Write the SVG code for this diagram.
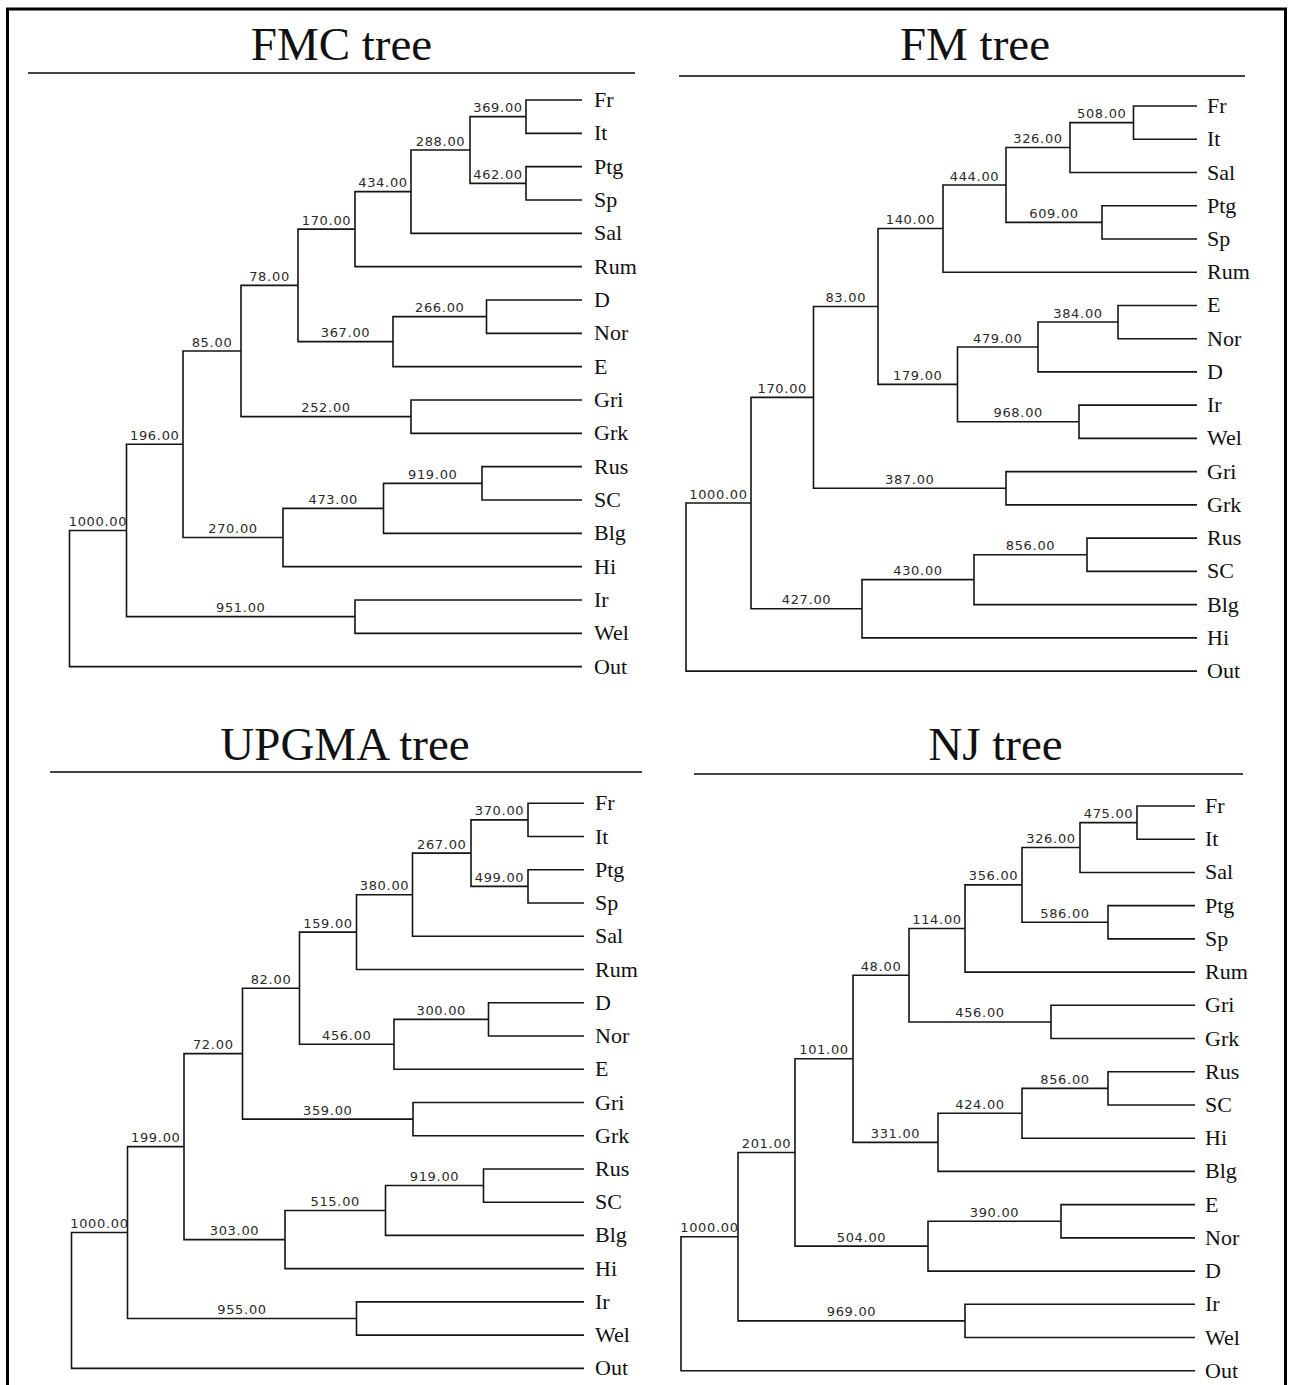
<svg xmlns="http://www.w3.org/2000/svg" width="1291" height="1385" viewBox="0 0 1291 1385">
  <style>
    .frame { fill: none; stroke: #000; stroke-width: 3; }
    .title { font-family: "Liberation Serif", "Times New Roman", serif; font-size: 47px; fill: #111; text-anchor: middle; }
    .rule { stroke: #444; stroke-width: 2; }
    .edges path { fill: none; stroke: #151515; stroke-width: 1.6; }
    .val { font-family: "DejaVu Sans", Verdana, sans-serif; font-size: 13px; letter-spacing: 0.7px; fill: #2a2a2a; text-anchor: middle; }
    .leaf text { font-family: "Liberation Serif", "Times New Roman", serif; font-size: 22px; fill: #111; }
  </style>
  <rect width="1291" height="1385" fill="#fff"/>
  <path class="frame" d="M7.5,1390 V9 H1285.5 V1390"/>

  <!-- FMC tree -->
  <g id="fmc">
    <text class="title" x="341.5" y="59.5">FMC tree</text>
    <line class="rule" x1="28" y1="73" x2="635" y2="73"/>
    <g id="fmc-edges" class="edges">
      <path d="M126.5,530.47 H69.5 V666.67 H582"/>
      <path d="M183,444.27 H126.5 V616.67 H355"/>
      <path d="M582,600 H355 V633.33 H582"/>
      <path d="M241,351.04 H183 V537.5 H283"/>
      <path d="M383.5,508.33 H283 V566.67 H582"/>
      <path d="M482,483.33 H383.5 V533.33 H582"/>
      <path d="M582,466.67 H482 V500 H582"/>
      <path d="M298,285.42 H241 V416.67 H411"/>
      <path d="M582,400 H411 V433.33 H582"/>
      <path d="M355,229.17 H298 V341.67 H393"/>
      <path d="M486.5,316.67 H393 V366.67 H582"/>
      <path d="M582,300 H486.5 V333.33 H582"/>
      <path d="M411,191.67 H355 V266.67 H582"/>
      <path d="M470,150 H411 V233.33 H582"/>
      <path d="M526,116.67 H470 V183.33 H526"/>
      <path d="M582,100 H526 V133.33 H582"/>
      <path d="M582,166.67 H526 V200 H582"/>
    </g>
    <g id="fmc-values">
      <text class="val" x="98" y="526">1000.00</text>
      <text class="val" x="154.75" y="439.8">196.00</text>
      <text class="val" x="240.75" y="612.2">951.00</text>
      <text class="val" x="212" y="346.5">85.00</text>
      <text class="val" x="233" y="533">270.00</text>
      <text class="val" x="333.25" y="503.8">473.00</text>
      <text class="val" x="432.75" y="478.8">919.00</text>
      <text class="val" x="269.5" y="280.9">78.00</text>
      <text class="val" x="326" y="412.2">252.00</text>
      <text class="val" x="326.5" y="224.7">170.00</text>
      <text class="val" x="345.5" y="337.2">367.00</text>
      <text class="val" x="439.75" y="312.2">266.00</text>
      <text class="val" x="383" y="187.2">434.00</text>
      <text class="val" x="440.5" y="145.5">288.00</text>
      <text class="val" x="498" y="112.2">369.00</text>
      <text class="val" x="498" y="178.8">462.00</text>
    </g>
    <g id="fmc-Fr" class="leaf"><text x="594" y="107">Fr</text></g>
    <g id="fmc-It" class="leaf"><text x="594" y="140.3">It</text></g>
    <g id="fmc-Ptg" class="leaf"><text x="594" y="173.7">Ptg</text></g>
    <g id="fmc-Sp" class="leaf"><text x="594" y="207">Sp</text></g>
    <g id="fmc-Sal" class="leaf"><text x="594" y="240.3">Sal</text></g>
    <g id="fmc-Rum" class="leaf"><text x="594" y="273.7">Rum</text></g>
    <g id="fmc-D" class="leaf"><text x="594" y="307">D</text></g>
    <g id="fmc-Nor" class="leaf"><text x="594" y="340.3">Nor</text></g>
    <g id="fmc-E" class="leaf"><text x="594" y="373.7">E</text></g>
    <g id="fmc-Gri" class="leaf"><text x="594" y="407">Gri</text></g>
    <g id="fmc-Grk" class="leaf"><text x="594" y="440.3">Grk</text></g>
    <g id="fmc-Rus" class="leaf"><text x="594" y="473.7">Rus</text></g>
    <g id="fmc-SC" class="leaf"><text x="594" y="507">SC</text></g>
    <g id="fmc-Blg" class="leaf"><text x="594" y="540.3">Blg</text></g>
    <g id="fmc-Hi" class="leaf"><text x="594" y="573.7">Hi</text></g>
    <g id="fmc-Ir" class="leaf"><text x="594" y="607">Ir</text></g>
    <g id="fmc-Wel" class="leaf"><text x="594" y="640.3">Wel</text></g>
    <g id="fmc-Out" class="leaf"><text x="594" y="673.7">Out</text></g>
  </g>

  <!-- FM tree -->
  <g id="fm">
    <text class="title" x="975" y="60">FM tree</text>
    <line class="rule" x1="679" y1="76" x2="1245" y2="76"/>
    <g id="fm-edges" class="edges">
      <path d="M751,503.06 H686 V671.08 H1197"/>
      <path d="M813.5,397.37 H751 V608.76 H862"/>
      <path d="M974,579.67 H862 V637.84 H1197"/>
      <path d="M1087,554.74 H974 V604.6 H1197"/>
      <path d="M1197,538.12 H1087 V571.36 H1197"/>
      <path d="M878,306.48 H813.5 V488.26 H1006"/>
      <path d="M1197,471.64 H1006 V504.88 H1197"/>
      <path d="M943,228.57 H878 V384.38 H957.5"/>
      <path d="M1006,184.95 H943 V272.2 H1197"/>
      <path d="M1070,147.55 H1006 V222.34 H1102"/>
      <path d="M1133.5,122.62 H1070 V172.48 H1197"/>
      <path d="M1197,106 H1133.5 V139.24 H1197"/>
      <path d="M1197,205.72 H1102 V238.96 H1197"/>
      <path d="M1038,346.99 H957.5 V421.78 H1079"/>
      <path d="M1118,322.06 H1038 V371.92 H1197"/>
      <path d="M1197,305.44 H1118 V338.68 H1197"/>
      <path d="M1197,405.16 H1079 V438.4 H1197"/>
    </g>
    <g id="fm-values">
      <text class="val" x="718.5" y="498.6">1000.00</text>
      <text class="val" x="782.25" y="392.9">170.00</text>
      <text class="val" x="806.5" y="604.3">427.00</text>
      <text class="val" x="845.75" y="302">83.00</text>
      <text class="val" x="909.75" y="483.8">387.00</text>
      <text class="val" x="910.5" y="224.1">140.00</text>
      <text class="val" x="917.75" y="379.9">179.00</text>
      <text class="val" x="974.5" y="180.5">444.00</text>
      <text class="val" x="1038" y="143.1">326.00</text>
      <text class="val" x="1101.75" y="118.1">508.00</text>
      <text class="val" x="1054" y="217.8">609.00</text>
      <text class="val" x="997.75" y="342.5">479.00</text>
      <text class="val" x="1078" y="317.6">384.00</text>
      <text class="val" x="1018.25" y="417.3">968.00</text>
      <text class="val" x="918" y="575.2">430.00</text>
      <text class="val" x="1030.5" y="550.2">856.00</text>
    </g>
    <g id="fm-Fr" class="leaf"><text x="1207" y="113">Fr</text></g>
    <g id="fm-It" class="leaf"><text x="1207" y="146.2">It</text></g>
    <g id="fm-Sal" class="leaf"><text x="1207" y="179.5">Sal</text></g>
    <g id="fm-Ptg" class="leaf"><text x="1207" y="212.7">Ptg</text></g>
    <g id="fm-Sp" class="leaf"><text x="1207" y="246">Sp</text></g>
    <g id="fm-Rum" class="leaf"><text x="1207" y="279.2">Rum</text></g>
    <g id="fm-E" class="leaf"><text x="1207" y="312.4">E</text></g>
    <g id="fm-Nor" class="leaf"><text x="1207" y="345.7">Nor</text></g>
    <g id="fm-D" class="leaf"><text x="1207" y="378.9">D</text></g>
    <g id="fm-Ir" class="leaf"><text x="1207" y="412.2">Ir</text></g>
    <g id="fm-Wel" class="leaf"><text x="1207" y="445.4">Wel</text></g>
    <g id="fm-Gri" class="leaf"><text x="1207" y="478.6">Gri</text></g>
    <g id="fm-Grk" class="leaf"><text x="1207" y="511.9">Grk</text></g>
    <g id="fm-Rus" class="leaf"><text x="1207" y="545.1">Rus</text></g>
    <g id="fm-SC" class="leaf"><text x="1207" y="578.4">SC</text></g>
    <g id="fm-Blg" class="leaf"><text x="1207" y="611.6">Blg</text></g>
    <g id="fm-Hi" class="leaf"><text x="1207" y="644.8">Hi</text></g>
    <g id="fm-Out" class="leaf"><text x="1207" y="678.1">Out</text></g>
  </g>

  <!-- UPGMA tree -->
  <g id="upgma">
    <text class="title" x="345" y="760">UPGMA tree</text>
    <line class="rule" x1="50" y1="772" x2="642" y2="772"/>
    <g id="upgma-edges" class="edges">
      <path d="M127.5,1232.57 H71.5 V1368.38 H584"/>
      <path d="M184,1146.61 H127.5 V1318.52 H356.5"/>
      <path d="M584,1301.9 H356.5 V1335.14 H584"/>
      <path d="M242.5,1053.64 H184 V1239.58 H285"/>
      <path d="M385.5,1210.49 H285 V1268.66 H584"/>
      <path d="M483.5,1185.56 H385.5 V1235.42 H584"/>
      <path d="M584,1168.94 H483.5 V1202.18 H584"/>
      <path d="M299.5,988.2 H242.5 V1119.08 H413"/>
      <path d="M584,1102.46 H413 V1135.7 H584"/>
      <path d="M356.5,932.11 H299.5 V1044.29 H394"/>
      <path d="M488.5,1019.36 H394 V1069.22 H584"/>
      <path d="M584,1002.74 H488.5 V1035.98 H584"/>
      <path d="M412.5,894.71 H356.5 V969.5 H584"/>
      <path d="M471,853.16 H412.5 V936.26 H584"/>
      <path d="M528,819.92 H471 V886.4 H528"/>
      <path d="M584,803.3 H528 V836.54 H584"/>
      <path d="M584,869.78 H528 V903.02 H584"/>
    </g>
    <g id="upgma-values">
      <text class="val" x="99.5" y="1228.1">1000.00</text>
      <text class="val" x="155.75" y="1142.1">199.00</text>
      <text class="val" x="242" y="1314">955.00</text>
      <text class="val" x="213.25" y="1049.1">72.00</text>
      <text class="val" x="234.5" y="1235.1">303.00</text>
      <text class="val" x="335.25" y="1206">515.00</text>
      <text class="val" x="434.5" y="1181.1">919.00</text>
      <text class="val" x="271" y="983.7">82.00</text>
      <text class="val" x="327.75" y="1114.6">359.00</text>
      <text class="val" x="328" y="927.6">159.00</text>
      <text class="val" x="346.75" y="1039.8">456.00</text>
      <text class="val" x="441.25" y="1014.9">300.00</text>
      <text class="val" x="384.5" y="890.2">380.00</text>
      <text class="val" x="441.75" y="848.7">267.00</text>
      <text class="val" x="499.5" y="815.4">370.00</text>
      <text class="val" x="499.5" y="881.9">499.00</text>
    </g>
    <g id="upgma-Fr" class="leaf"><text x="595" y="810.3">Fr</text></g>
    <g id="upgma-It" class="leaf"><text x="595" y="843.5">It</text></g>
    <g id="upgma-Ptg" class="leaf"><text x="595" y="876.8">Ptg</text></g>
    <g id="upgma-Sp" class="leaf"><text x="595" y="910">Sp</text></g>
    <g id="upgma-Sal" class="leaf"><text x="595" y="943.3">Sal</text></g>
    <g id="upgma-Rum" class="leaf"><text x="595" y="976.5">Rum</text></g>
    <g id="upgma-D" class="leaf"><text x="595" y="1009.7">D</text></g>
    <g id="upgma-Nor" class="leaf"><text x="595" y="1043">Nor</text></g>
    <g id="upgma-E" class="leaf"><text x="595" y="1076.2">E</text></g>
    <g id="upgma-Gri" class="leaf"><text x="595" y="1109.5">Gri</text></g>
    <g id="upgma-Grk" class="leaf"><text x="595" y="1142.7">Grk</text></g>
    <g id="upgma-Rus" class="leaf"><text x="595" y="1175.9">Rus</text></g>
    <g id="upgma-SC" class="leaf"><text x="595" y="1209.2">SC</text></g>
    <g id="upgma-Blg" class="leaf"><text x="595" y="1242.4">Blg</text></g>
    <g id="upgma-Hi" class="leaf"><text x="595" y="1275.7">Hi</text></g>
    <g id="upgma-Ir" class="leaf"><text x="595" y="1308.9">Ir</text></g>
    <g id="upgma-Wel" class="leaf"><text x="595" y="1342.1">Wel</text></g>
    <g id="upgma-Out" class="leaf"><text x="595" y="1375.4">Out</text></g>
  </g>

  <!-- NJ tree -->
  <g id="nj">
    <text class="title" x="995.5" y="760">NJ tree</text>
    <line class="rule" x1="694" y1="774" x2="1243" y2="774"/>
    <g id="nj-edges" class="edges">
      <path d="M738,1236.7 H681 V1370.74 H1195"/>
      <path d="M795,1152.48 H738 V1320.91 H965"/>
      <path d="M1195,1304.3 H965 V1337.52 H1195"/>
      <path d="M853,1058.79 H795 V1246.17 H928"/>
      <path d="M1061,1221.25 H928 V1271.08 H1195"/>
      <path d="M1195,1204.64 H1061 V1237.86 H1195"/>
      <path d="M909,975.22 H853 V1142.36 H938"/>
      <path d="M1022,1113.29 H938 V1171.42 H1195"/>
      <path d="M1108,1088.37 H1022 V1138.2 H1195"/>
      <path d="M1195,1071.76 H1108 V1104.98 H1195"/>
      <path d="M965,928.5 H909 V1021.93 H1051"/>
      <path d="M1195,1005.32 H1051 V1038.54 H1195"/>
      <path d="M1022,884.9 H965 V972.1 H1195"/>
      <path d="M1080,847.53 H1022 V922.27 H1108"/>
      <path d="M1137,822.61 H1080 V872.44 H1195"/>
      <path d="M1195,806 H1137 V839.22 H1195"/>
      <path d="M1195,905.66 H1108 V938.88 H1195"/>
    </g>
    <g id="nj-values">
      <text class="val" x="709.5" y="1232.2">1000.00</text>
      <text class="val" x="766.5" y="1148">201.00</text>
      <text class="val" x="851.5" y="1316.4">969.00</text>
      <text class="val" x="824" y="1054.3">101.00</text>
      <text class="val" x="861.5" y="1241.7">504.00</text>
      <text class="val" x="994.5" y="1216.8">390.00</text>
      <text class="val" x="881" y="970.7">48.00</text>
      <text class="val" x="895.5" y="1137.9">331.00</text>
      <text class="val" x="980" y="1108.8">424.00</text>
      <text class="val" x="1065" y="1083.9">856.00</text>
      <text class="val" x="937" y="924">114.00</text>
      <text class="val" x="980" y="1017.4">456.00</text>
      <text class="val" x="993.5" y="880.4">356.00</text>
      <text class="val" x="1051" y="843">326.00</text>
      <text class="val" x="1065" y="917.8">586.00</text>
      <text class="val" x="1108.5" y="818.1">475.00</text>
    </g>
    <g id="nj-Fr" class="leaf"><text x="1205" y="813">Fr</text></g>
    <g id="nj-It" class="leaf"><text x="1205" y="846.2">It</text></g>
    <g id="nj-Sal" class="leaf"><text x="1205" y="879.4">Sal</text></g>
    <g id="nj-Ptg" class="leaf"><text x="1205" y="912.7">Ptg</text></g>
    <g id="nj-Sp" class="leaf"><text x="1205" y="945.9">Sp</text></g>
    <g id="nj-Rum" class="leaf"><text x="1205" y="979.1">Rum</text></g>
    <g id="nj-Gri" class="leaf"><text x="1205" y="1012.3">Gri</text></g>
    <g id="nj-Grk" class="leaf"><text x="1205" y="1045.5">Grk</text></g>
    <g id="nj-Rus" class="leaf"><text x="1205" y="1078.8">Rus</text></g>
    <g id="nj-SC" class="leaf"><text x="1205" y="1112">SC</text></g>
    <g id="nj-Hi" class="leaf"><text x="1205" y="1145.2">Hi</text></g>
    <g id="nj-Blg" class="leaf"><text x="1205" y="1178.4">Blg</text></g>
    <g id="nj-E" class="leaf"><text x="1205" y="1211.6">E</text></g>
    <g id="nj-Nor" class="leaf"><text x="1205" y="1244.9">Nor</text></g>
    <g id="nj-D" class="leaf"><text x="1205" y="1278.1">D</text></g>
    <g id="nj-Ir" class="leaf"><text x="1205" y="1311.3">Ir</text></g>
    <g id="nj-Wel" class="leaf"><text x="1205" y="1344.5">Wel</text></g>
    <g id="nj-Out" class="leaf"><text x="1205" y="1377.7">Out</text></g>
  </g>
</svg>
